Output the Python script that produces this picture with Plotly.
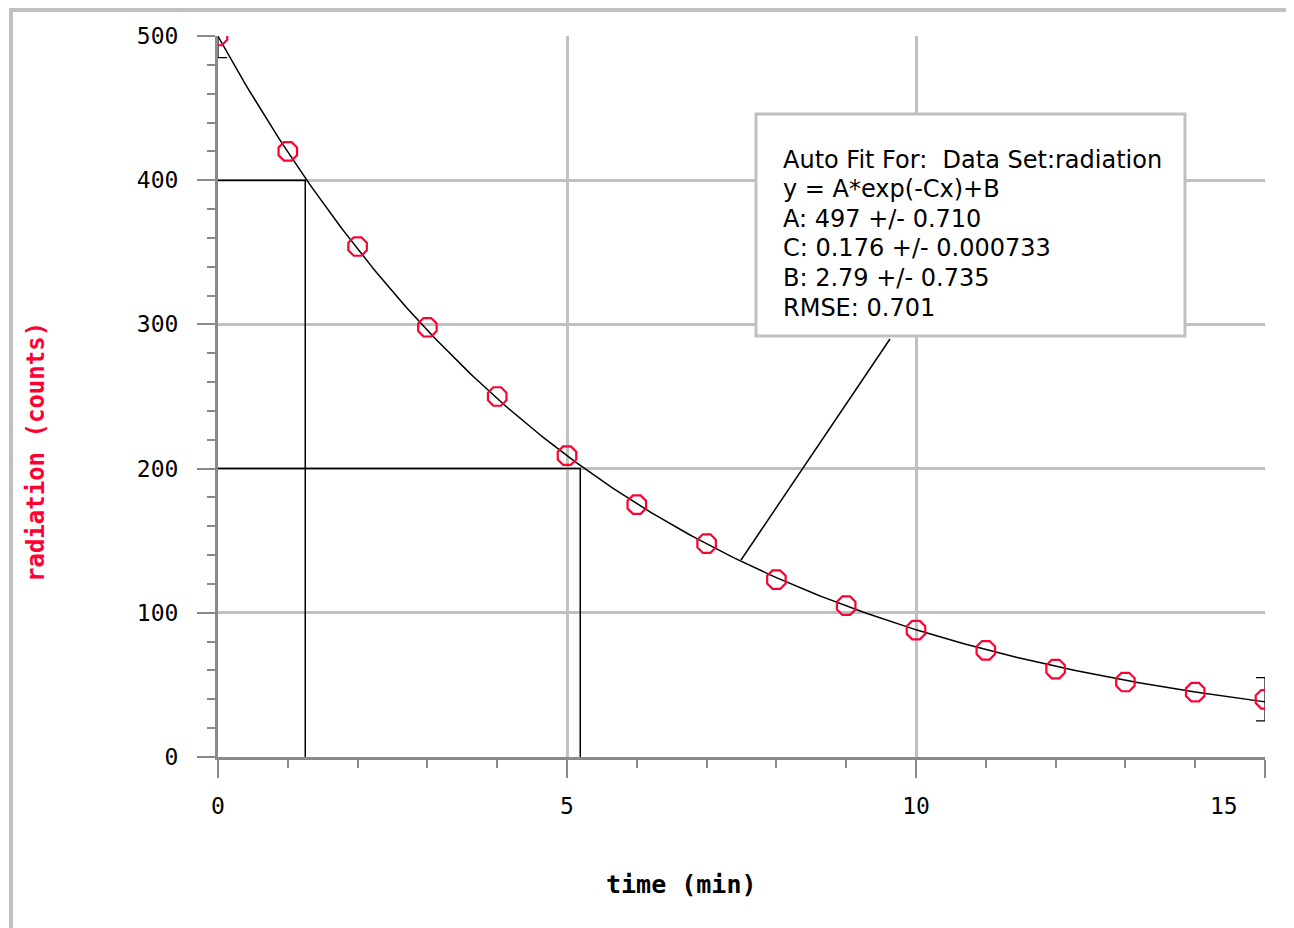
import numpy as np
import plotly.graph_objects as go

# ---- data ----
time_min = [0, 1, 2, 3, 4, 5, 6, 7, 8, 9, 10, 11, 12, 13, 14, 15]
counts = [500, 420, 354, 298, 250, 209, 175, 148, 123, 105, 88, 74, 61, 52, 45, 40]

# fit parameters shown in the chart
fit_A = 497.0
fit_C = 0.176
fit_B = 2.79

# half-life guide lines (level, time)
guide_levels = [400, 200]
guide_times = [1.25, 5.19]

# error caps on first / last point
err_time = [0, 15]
err_counts = [500, 40]
err_size = [15, 15]

x_tickvals = [0, 5, 10, 15]
x_ticktext = ["0", "5", "10", ""]
y_tickvals = [0, 100, 200, 300, 400, 500]
y_ticktext = ["0", "100", "200", "300", "400", "500"]

fit_lines = [
    "Auto Fit For:\u00a0\u00a0Data Set:radiation",
    "y = A*exp(-Cx)+B",
    "A: 497 +/- 0.710",
    "C: 0.176 +/- 0.000733",
    "B: 2.79 +/- 0.735",
    "RMSE: 0.701",
]

# ---- layout geometry (page pixels; body margin offset 8px) ----
OFF = 8
PAGE_W, PAGE_H = 1294, 928
W, H = PAGE_W - OFF, PAGE_H - OFF
L, R, T, B = 218, 1265, 36, 757   # page pixels of plot area
XMAX, YMAX = 15, 500


def dx(px):
    return (px - L) / (R - L) * XMAX


def dy(py):
    return (B - py) / (B - T) * YMAX


def pxp(px):
    return (px - L) / (R - L)


def pyp(py):
    return (B - py) / (B - T)


RED = "#ff0033"
GRID = "#c0c0c0"
AXIS = "#8a8a8a"
MONO = "DejaVu Sans Mono"

fit_t = np.linspace(0, 15, 301)
fit_y = fit_A * np.exp(-fit_C * fit_t) + fit_B

fig = go.Figure()

# guide lines
for lvl, t in zip(guide_levels, guide_times):
    fig.add_trace(go.Scatter(
        x=[0, t, t], y=[lvl, lvl, 0], mode="lines",
        line=dict(color="black", width=1.5), hoverinfo="skip", showlegend=False))

# fit curve
fig.add_trace(go.Scatter(
    x=fit_t, y=fit_y, mode="lines",
    line=dict(color="black", width=1.5), showlegend=False))

# error caps
fig.add_trace(go.Scatter(
    x=err_time, y=err_counts, mode="markers",
    marker=dict(size=1, color="rgba(0,0,0,0)"),
    error_y=dict(type="data", array=err_size, color="black", thickness=1.2, width=9),
    showlegend=False))

# data points
fig.add_trace(go.Scatter(
    x=time_min, y=counts, mode="markers",
    marker=dict(symbol="octagon-open", size=20, color=RED, line=dict(width=2.2, color=RED)),
    showlegend=False))

shapes = []
# outer gray frame
shapes.append(dict(type="line", xref="paper", yref="paper",
                   x0=pxp(11), x1=pxp(1310), y0=pyp(10), y1=pyp(10),
                   line=dict(color=GRID, width=4), layer="below"))
shapes.append(dict(type="line", xref="paper", yref="paper",
                   x0=pxp(11), x1=pxp(11), y0=pyp(8), y1=pyp(940),
                   line=dict(color=GRID, width=4), layer="below"))
# fit box
shapes.append(dict(type="rect", xref="x", yref="y",
                   x0=dx(756), x1=dx(1185), y0=dy(114), y1=dy(336),
                   fillcolor="white", line=dict(color=GRID, width=3), layer="above"))
# pointer
shapes.append(dict(type="line", xref="x", yref="y",
                   x0=dx(890), y0=dy(339), x1=dx(741), y1=dy(560),
                   line=dict(color="black", width=1.5), layer="above"))

annotations = []
line_y = [160, 189, 219, 248, 278, 308]
for txt, py in zip(fit_lines, line_y):
    annotations.append(dict(x=pxp(781), y=pyp(py), xref="paper", yref="paper", text=txt,
                            showarrow=False, xanchor="left", yanchor="middle",
                            font=dict(family="DejaVu Sans", size=24, color="black")))
annotations.append(dict(x=pxp(681), y=pyp(884), xref="paper", yref="paper",
                        text="<b>time (min)</b>",
                        showarrow=False, xanchor="center", yanchor="middle",
                        font=dict(family=MONO, size=25, color="black")))
annotations.append(dict(x=pxp(36), y=pyp(452), xref="paper", yref="paper",
                        text="<b>radiation (counts)</b>",
                        showarrow=False, xanchor="center", yanchor="middle", textangle=-90,
                        font=dict(family=MONO, size=24, color=RED)))
annotations.append(dict(x=pxp(1224), y=pyp(806), xref="paper", yref="paper", text="15",
                        showarrow=False, xanchor="center", yanchor="middle",
                        font=dict(family=MONO, size=23, color="black")))

fig.update_layout(
    width=W, height=H,
    margin=dict(l=L - OFF, r=PAGE_W - R, t=T - OFF, b=PAGE_H - B),
    paper_bgcolor="white", plot_bgcolor="white",
    shapes=shapes, annotations=annotations,
    xaxis=dict(range=[0, XMAX], tickvals=x_tickvals, ticktext=x_ticktext,
               ticks="outside", ticklen=18, tickwidth=2, tickcolor=AXIS,
               showline=True, linewidth=3, linecolor=AXIS,
               showgrid=True, gridcolor=GRID, gridwidth=3, zeroline=False,
               tickfont=dict(family=MONO, size=23, color="black"),
               ticklabelstandoff=8,
               minor=dict(dtick=1, tick0=0, ticks="outside", ticklen=8, tickwidth=2,
                          tickcolor=AXIS, showgrid=False)),
    yaxis=dict(range=[0, YMAX], tickvals=y_tickvals, ticktext=y_ticktext,
               ticks="outside", ticklen=18, tickwidth=2, tickcolor=AXIS,
               showline=True, linewidth=3, linecolor=AXIS,
               showgrid=True, gridcolor=GRID, gridwidth=3, zeroline=False,
               tickfont=dict(family=MONO, size=23, color="black"),
               ticklabelstandoff=14,
               minor=dict(dtick=20, tick0=0, ticks="outside", ticklen=8, tickwidth=2,
                          tickcolor=AXIS, showgrid=False)),
)

fig.write_html("out.html")
